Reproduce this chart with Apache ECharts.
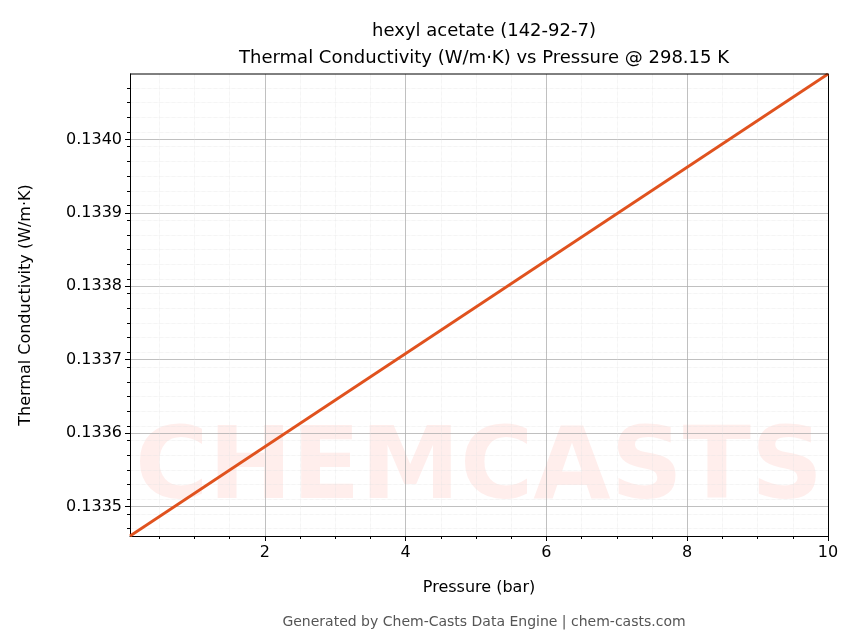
<!DOCTYPE html>
<html>
<head>
<meta charset="utf-8">
<script src="https://cdn.jsdelivr.net/npm/echarts@6/dist/echarts.min.js"></script>
<style>html,body{margin:0;padding:0;background:#fff}#chart{width:856px;height:644px}</style>
</head>
<body>
<div id="chart"></div>
<script>
// data
const pressure = [0.085, 10];
const conductivity = [0.13346, 0.134089];
const xTicks = [2, 4, 6, 8, 10];
const xMinor = [0.5, 1, 1.5, 2.5, 3, 3.5, 4.5, 5, 5.5, 6.5, 7, 7.5, 8.5, 9, 9.5];
const yTicks = [0.1335, 0.1336, 0.1337, 0.1338, 0.1339, 0.1340];
const yMinor = [];
for (let k = 13347; k <= 13408; k += 2) { if (k % 10 !== 0) yMinor.push(k / 100000); }

const chart = echarts.init(document.getElementById('chart'));
const font = 'DejaVu Sans';
const xRange = { min: 0.085, max: 10 };
const yRange = { min: 0.13346, max: 0.134089 };

chart.setOption({
    animation: false,
    title: [
        { text: 'hexyl acetate (142-92-7)\nThermal Conductivity (W/m·K) vs Pressure @ 298.15 K',
          left: 479, top: 13, textAlign: 'center',
          textStyle: { fontFamily: font, fontSize: 18, fontWeight: 'normal', color: '#000', lineHeight: 27 } },
        { text: 'Generated by Chem-Casts Data Engine | chem-casts.com', left: 479, top: 610, textAlign: 'center',
          textStyle: { fontFamily: font, fontSize: 14, fontWeight: 'normal', color: '#555' } }
    ],
    graphic: [
        { type: 'text', left: 135, top: 422, z: 0,
          style: { text: 'CHEMCASTS', font: 'bold 100px DejaVu Sans', fill: 'rgba(255,90,70,0.10)' } },
        { type: 'line', shape: { x1: 130, y1: 74, x2: 828, y2: 74 }, style: { stroke: '#000', lineWidth: 1 }, z: 10 }
    ],
    grid: [
        { left: 130, right: 28, top: 74, bottom: 108 }
    ],
    xAxis: [
        { type: 'value', ...xRange,
          axisLine: { onZero: false, lineStyle: { color: '#000' } },
          axisTick: { show: true, customValues: xTicks, length: 5, lineStyle: { color: '#000' } },
          axisLabel: { customValues: xTicks, color: '#000', fontFamily: font, fontSize: 16, margin: 9 },
          splitLine: { show: true, lineStyle: { color: '#b0b0b0', width: 0.8 } },
          name: 'Pressure (bar)', nameLocation: 'middle', nameGap: 44,
          nameTextStyle: { fontFamily: font, fontSize: 16, color: '#000' } },
        { type: 'value', ...xRange, position: 'bottom',
          axisLine: { show: false },
          axisTick: { show: true, customValues: xMinor, length: 3, lineStyle: { color: '#000' } },
          axisLabel: { show: false, customValues: xMinor },
          splitLine: { show: true, lineStyle: { color: '#e2e2e2', width: 0.6, type: 'dotted' } } }
    ],
    yAxis: [
        { type: 'value', ...yRange,
          axisLine: { show: true, onZero: false, lineStyle: { color: '#000' } },
          axisTick: { show: true, customValues: yTicks, length: 5, lineStyle: { color: '#000' } },
          axisLabel: { customValues: yTicks, color: '#000', fontFamily: font, fontSize: 16, margin: 8,
                       formatter: v => v.toFixed(4) },
          splitLine: { show: true, lineStyle: { color: '#b0b0b0', width: 0.8 } },
          name: 'Thermal Conductivity (W/m·K)', nameLocation: 'middle', nameGap: 96,
          nameTextStyle: { fontFamily: font, fontSize: 16, color: '#000' } },
        { type: 'value', ...yRange, position: 'left',
          axisLine: { show: false },
          axisTick: { show: true, customValues: yMinor, length: 3, lineStyle: { color: '#000' } },
          axisLabel: { show: false, customValues: yMinor },
          splitLine: { show: true, lineStyle: { color: '#e2e2e2', width: 0.6, type: 'dotted' } } },
        { type: 'value', ...yRange, position: 'right',
          axisLine: { show: true, lineStyle: { color: '#000' } },
          axisTick: { show: false }, axisLabel: { show: false }, splitLine: { show: false } }
    ],
    series: [{
        type: 'line', xAxisIndex: 0, yAxisIndex: 0, symbol: 'none', z: 5,
        lineStyle: { color: '#e0521e', width: 2.8 },
        data: pressure.map((p, i) => [p, conductivity[i]])
    }]
});
</script>
</body>
</html>
